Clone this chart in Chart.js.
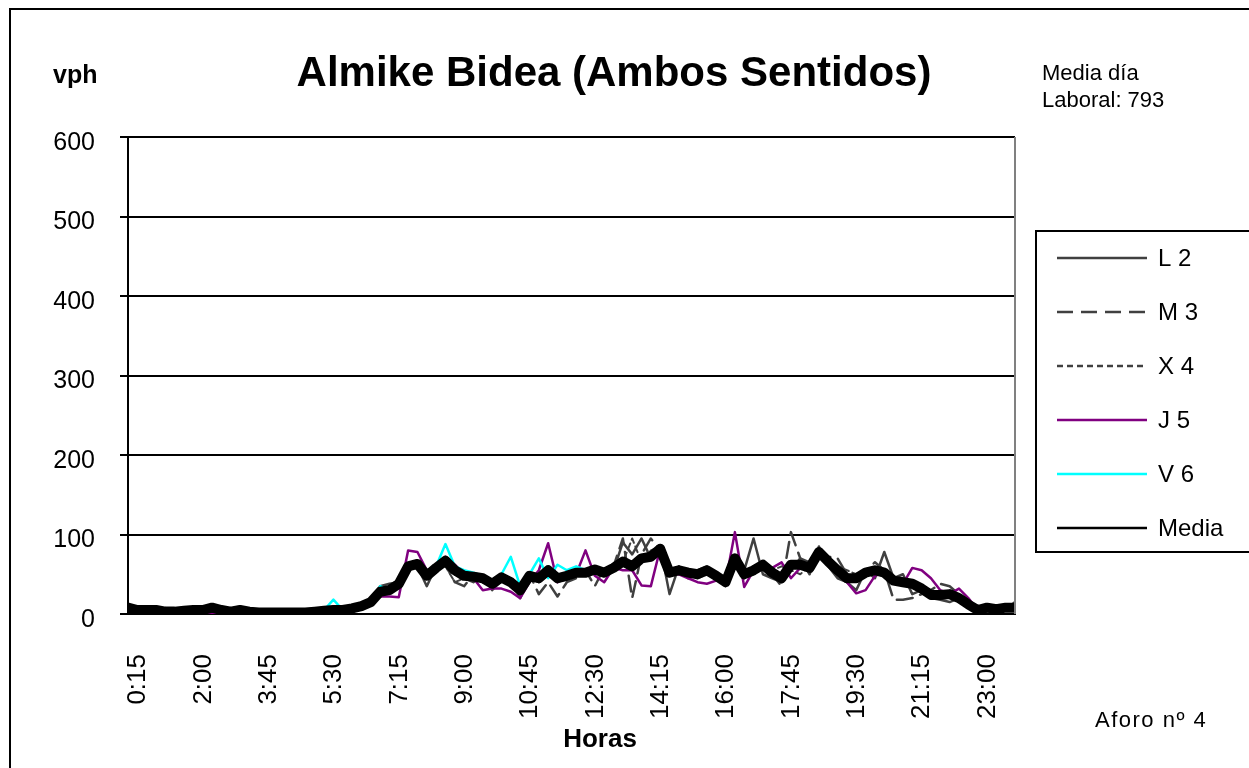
<!DOCTYPE html>
<html>
<head>
<meta charset="utf-8">
<script src="https://cdn.jsdelivr.net/npm/chart.js@4/dist/chart.umd.min.js"></script>
<style>
  body { margin:0; background:#fff; }
  #wrap { position:relative; width:1249px; height:768px; overflow:hidden; font-family:"Liberation Sans", Arial, sans-serif; }
  #frame { position:absolute; left:9px; top:8px; width:1300px; height:820px; border:2px solid #000; }
  #box { position:absolute; left:0; top:0; width:1249px; height:768px; }
  .txt { position:absolute; white-space:nowrap; color:#000; line-height:1; }
</style>
</head>
<body>
<div id="wrap">
  <div id="frame"></div>
  <div id="box"><canvas id="chart"></canvas></div>
  <div class="txt" style="left:53px; top:62px; font-size:25px; font-weight:bold;">vph</div>
  <div class="txt" style="left:614px; top:51px; transform:translateX(-50%); font-size:42px; font-weight:bold;">Almike Bidea (Ambos Sentidos)</div>
  <div class="txt" style="left:1042px; top:62px; font-size:22px;">Media día</div>
  <div class="txt" style="left:1042px; top:89px; font-size:22px;">Laboral: 793</div>
  <div class="txt" style="left:600px; top:725px; transform:translateX(-50%); font-size:26px; font-weight:bold;">Horas</div>
  <div class="txt" style="left:1095px; top:709px; font-size:22px; letter-spacing:1.5px;">Aforo nº 4</div>
</div>
<script>
// quarter-hour periods
const horas = [
  '0:15','0:30','0:45','1:00','1:15','1:30','1:45','2:00','2:15','2:30','2:45','3:00',
  '3:15','3:30','3:45','4:00','4:15','4:30','4:45','5:00','5:15','5:30','5:45','6:00',
  '6:15','6:30','6:45','7:00','7:15','7:30','7:45','8:00','8:15','8:30','8:45','9:00',
  '9:15','9:30','9:45','10:00','10:15','10:30','10:45','11:00','11:15','11:30','11:45','12:00',
  '12:15','12:30','12:45','13:00','13:15','13:30','13:45','14:00','14:15','14:30','14:45','15:00',
  '15:15','15:30','15:45','16:00','16:15','16:30','16:45','17:00','17:15','17:30','17:45','18:00',
  '18:15','18:30','18:45','19:00','19:15','19:30','19:45','20:00','20:15','20:30','20:45','21:00',
  '21:15','21:30','21:45','22:00','22:15','22:30','22:45','23:00','23:15','23:30','23:45','24:00'
];

const yTicks = [0, 100, 200, 300, 400, 500, 600];

const lunes = [
  6,4,5,4,2,3,3,4,6,7,4,2,4,2,1,2,1,2,1,2,3,3,4,6,
  8,12,18,35,38,40,55,60,35,60,70,50,45,40,48,30,42,45,20,45,40,50,40,45,
  55,50,60,48,55,90,75,95,70,85,25,60,45,55,60,45,35,60,55,95,50,45,40,55,
  70,50,85,60,45,40,30,55,45,78,45,50,25,30,20,18,15,20,10,5,3,10,5,15
];
const martes = [
  7,5,5,6,3,3,4,6,5,9,5,3,6,3,2,2,3,2,2,2,3,4,5,6,
  7,10,16,30,32,40,58,60,50,55,62,40,35,50,40,35,50,38,35,50,25,40,22,40,
  45,55,35,58,60,95,20,75,95,80,55,50,55,45,50,50,40,65,45,60,65,50,35,103,
  70,65,75,72,70,50,50,55,65,55,18,18,20,25,30,38,35,25,12,4,8,5,6,6
];
const miercoles = [
  8,6,5,5,4,3,5,5,4,8,5,4,5,3,2,2,2,3,2,2,3,4,5,5,
  7,10,15,28,30,40,55,62,50,58,60,40,45,50,42,38,48,40,30,48,50,55,48,50,
  52,48,58,55,60,65,95,65,80,85,50,55,52,50,52,48,42,68,48,50,60,55,60,55,
  50,60,75,70,60,55,50,48,58,50,45,45,40,35,25,25,30,22,15,6,10,5,8,5
];
const jueves = [
  9,5,4,5,3,2,4,3,4,0,5,3,4,3,2,2,2,2,2,2,3,4,5,4,
  6,8,15,22,22,21,80,78,55,58,72,62,50,45,30,32,32,28,20,40,55,89,40,48,
  50,80,48,40,58,55,55,36,35,82,50,50,45,40,38,42,40,103,34,55,60,58,65,45,
  58,62,72,62,50,40,26,30,48,52,42,38,58,55,45,30,25,32,20,5,12,4,10,6
];
const viernes = [
  9,6,5,5,3,4,4,6,5,8,5,3,5,3,2,2,2,2,3,4,3,5,18,5,
  8,10,11,35,30,35,60,65,50,60,88,60,55,52,48,40,50,72,35,50,70,45,62,55,
  60,55,58,55,60,65,60,68,70,78,52,55,55,52,55,50,42,65,50,55,60,50,45,58,
  60,58,75,65,55,45,48,50,55,50,42,40,38,32,25,25,25,20,12,5,8,6,8,8
];
const media = [
  8,5,5,5,3,3,4,5,5,8,5,3,5,3,2,2,2,2,2,2,3,4,5,5,
  7,10,15,28,30,38,60,63,48,58,67,55,48,47,45,38,46,40,30,48,45,55,45,48,
  52,52,56,52,58,66,60,70,72,82,52,55,52,50,55,48,40,70,50,55,62,52,45,62,
  62,58,78,66,55,45,45,52,55,52,42,40,38,32,24,24,25,20,12,5,8,6,8,8
];

const series = [
  { label: 'L 2', data: lunes, color: '#404040', width: 2.5, dash: [], order: 6 },
  { label: 'M 3', data: martes, color: '#404040', width: 2.5, dash: [16, 8], order: 5 },
  { label: 'X 4', data: miercoles, color: '#404040', width: 2, dash: [6, 4], order: 4 },
  { label: 'J 5', data: jueves, color: '#800080', width: 2.5, dash: [], order: 3 },
  { label: 'V 6', data: viernes, color: '#00ffff', width: 2.5, dash: [], order: 2 },
  { label: 'Media', data: media, color: '#000000', width: 10, dash: [], order: 1 }
];

const FONT = '"Liberation Sans", Arial, sans-serif';

// grey right edge of the plot area plus the boxed legend on the right
const extras = {
  id: 'extras',
  afterDraw(chart) {
    const ctx = chart.ctx;
    const a = chart.chartArea;
    ctx.save();
    ctx.strokeStyle = '#808080';
    ctx.lineWidth = 2;
    ctx.beginPath();
    ctx.moveTo(a.right, a.top);
    ctx.lineTo(a.right, a.bottom);
    ctx.stroke();

    ctx.strokeStyle = '#000';
    ctx.lineWidth = 2;
    ctx.strokeRect(1036, 231, 240, 321);
    ctx.font = '24px ' + FONT;
    ctx.textBaseline = 'middle';
    ctx.fillStyle = '#000';
    series.forEach((s, i) => {
      const y = 258 + i * 54;
      ctx.strokeStyle = s.color;
      ctx.lineWidth = 2.5;
      ctx.setLineDash(s.dash);
      ctx.beginPath();
      ctx.moveTo(1057, y);
      ctx.lineTo(1147, y);
      ctx.stroke();
      ctx.setLineDash([]);
      ctx.fillText(s.label, 1158, y + 1);
    });
    ctx.restore();
  }
};

new Chart(document.getElementById('chart'), {
  type: 'line',
  data: {
    labels: horas,
    datasets: series.map(s => ({
      label: s.label,
      data: s.data,
      borderColor: s.color,
      borderWidth: s.width,
      borderDash: s.dash,
      borderJoinStyle: 'round',
      borderCapStyle: 'round',
      pointRadius: 0,
      tension: 0,
      fill: false,
      clip: 0,
      order: s.order
    }))
  },
  options: {
    responsive: true,
    maintainAspectRatio: false,
    animation: false,
    layout: { padding: { left: 0, top: 137, right: 234, bottom: 0 } },
    plugins: {
      legend: { display: false },
      tooltip: { enabled: false }
    },
    scales: {
      x: {
        offset: false,
        grid: { display: false },
        border: { color: '#000', width: 2 },
        afterFit: s => { s.height = 154; },
        ticks: {
          autoSkip: false,
          maxRotation: 90,
          minRotation: 90,
          padding: 32,
          labelOffset: 10,
          color: '#000',
          font: { family: FONT, size: 26 },
          callback: (v, i) => (i % 7 === 0 ? horas[i] : '')
        }
      },
      y: {
        min: yTicks[0],
        max: yTicks[yTicks.length - 1],
        afterFit: s => { s.width = 128; },
        afterBuildTicks: s => { s.ticks = yTicks.map(v => ({ value: v })); },
        border: { color: '#000', width: 2 },
        grid: { color: '#000', lineWidth: 2, tickLength: 8, tickColor: '#000' },
        ticks: {
          padding: 25,
          labelOffset: 6,
          color: '#000',
          font: { family: FONT, size: 25 }
        }
      }
    }
  },
  plugins: [extras]
});
</script>
</body>
</html>
